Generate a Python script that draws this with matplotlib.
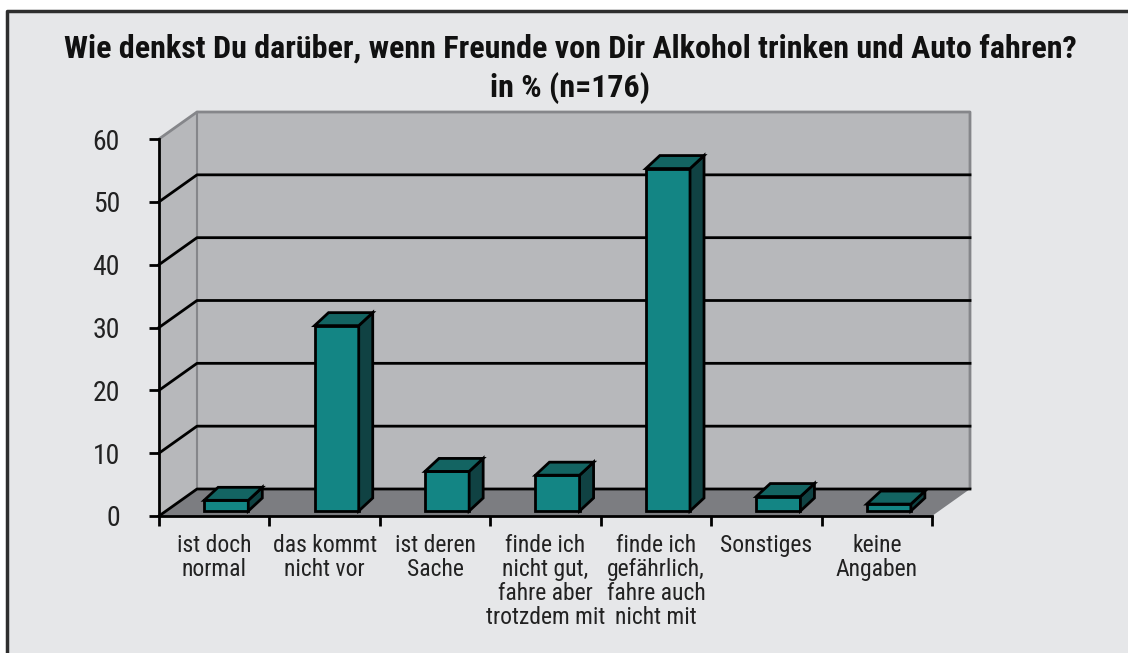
import matplotlib.pyplot as plt
from matplotlib.patches import Polygon, Rectangle
from matplotlib.lines import Line2D
import numpy as np

# Daten
categories = ['ist doch\nnormal', 'das kommt\nnicht vor', 'ist deren\nSache',
              'finde ich\nnicht gut,\nfahre aber\ntrotzdem mit',
              'finde ich\ngefährlich,\nfahre auch\nnicht mit',
              'Sonstiges', 'keine\nAngaben']
values = [1.7, 29.5, 6.3, 5.7, 54.5, 2.3, 1.1]
yticks = [0, 10, 20, 30, 40, 50, 60]

title = 'Wie denkst Du darüber, wenn Freunde von Dir Alkohol trinken und Auto fahren?\nin % (n=176)'

plt.rcParams['font.family'] = ['Roboto Condensed', 'DejaVu Sans']
plt.rcParams['font.stretch'] = 'condensed'

W, H = 1128, 653
fig = plt.figure(figsize=(W / 100, H / 100), dpi=100)
fig.patch.set_facecolor('white')

# Hintergrund + Rahmen (nur oben und links sichtbar)
fx, fy = 6.5 / W, 1 - 11 / H
fig.patches.append(Rectangle((fx, 0), 1 - fx, fy, transform=fig.transFigure,
                             facecolor='#e6e7e9', edgecolor='none', zorder=-5))
fig.lines.append(Line2D([fx, fx, 1], [0, fy, fy], transform=fig.transFigure,
                        color='#2e2e2e', lw=2.5, zorder=-4))

x0, x1, y0, y1 = 159, 932, 516, 139
ax = fig.add_axes([x0 / W, 1 - y0 / H, (x1 - x0) / W, (y0 - y1) / H])
ax.patch.set_visible(False)
n = len(values)
ymax = yticks[-1]
ax.set_xlim(0, n)
ax.set_ylim(0, ymax)

px_x = (x1 - x0) / n
px_y = (y0 - y1) / ymax
# Tiefe der Wand / der Balken (Pixel -> Daten)
wdx, wdy = 38 / px_x, 27 / px_y
fdx, fdy = 12 / px_x, 5 / px_y
bdx, bdy = 14 / px_x, 13 / px_y
bw = 0.4

wall = '#b7b8bb'
floor = '#7c7d81'
edge = '#85868a'

ax.add_patch(Polygon([(0, 0), (0, ymax), (wdx, ymax + wdy), (wdx, wdy)],
                     closed=True, facecolor=wall, edgecolor='none', zorder=0.5, clip_on=False))
ax.add_patch(Rectangle((wdx, wdy), n, ymax, facecolor=wall, edgecolor='none',
                       zorder=0.5, clip_on=False))
ax.add_patch(Polygon([(0, 0), (n, 0), (n + wdx, wdy), (wdx, wdy)],
                     closed=True, facecolor=floor, edgecolor='none', zorder=0.6, clip_on=False))
# Kanten der Wand
ax.plot([0, wdx, n + wdx, n + wdx], [ymax, ymax + wdy, ymax + wdy, wdy],
        color=edge, lw=2, zorder=0.7, clip_on=False, solid_capstyle='butt')
ax.plot([wdx, wdx], [wdy, ymax + wdy], color=edge, lw=1.5, zorder=0.7, clip_on=False)

for v in yticks[:-1]:
    ax.plot([0, wdx, n + wdx], [v, v + wdy, v + wdy], color='black', lw=2,
            zorder=1, clip_on=False)

# Balken
idx = np.arange(n)
xl = idx + 0.5 - bw / 2 + fdx
ax.bar(xl, values, width=bw, bottom=fdy, align='edge', color='#138584',
       edgecolor='black', lw=2, zorder=3)
for i, v in enumerate(values):
    l, r = xl[i], xl[i] + bw
    t = v + fdy
    ax.add_patch(Polygon([(r, fdy), (r, t), (r + bdx, t + bdy), (r + bdx, fdy + bdy)],
                         closed=True, facecolor='#104243', edgecolor='black', lw=2, zorder=3))
    ax.add_patch(Polygon([(l, t), (r, t), (r + bdx, t + bdy), (l + bdx, t + bdy)],
                         closed=True, facecolor='#136462', edgecolor='black', lw=2, zorder=3))

# Achsen
for s in ['top', 'right']:
    ax.spines[s].set_visible(False)
for s in ['left', 'bottom']:
    ax.spines[s].set_linewidth(2)
    ax.spines[s].set_zorder(5)

ax.set_yticks(yticks)
ax.tick_params(axis='y', length=7, width=2, pad=21, labelsize=20, colors='black')
for lbl in ax.get_yticklabels():
    lbl.set_color('#222222')

ax.set_xticks(np.arange(n + 1), minor=True)
ax.set_xticks(idx + 0.5)
ax.set_xticklabels(categories, linespacing=1.06)
ax.tick_params(axis='x', which='major', length=0, pad=13, labelsize=17, labelcolor='#222222')
ax.tick_params(axis='x', which='minor', length=7, width=2)

fig.text(570 / W, 1 - 34 / H, title, ha='center', va='top', fontsize=23,
         fontweight='bold', linespacing=1.32, color='#111111')

fig.savefig('out.png', dpi=100)
